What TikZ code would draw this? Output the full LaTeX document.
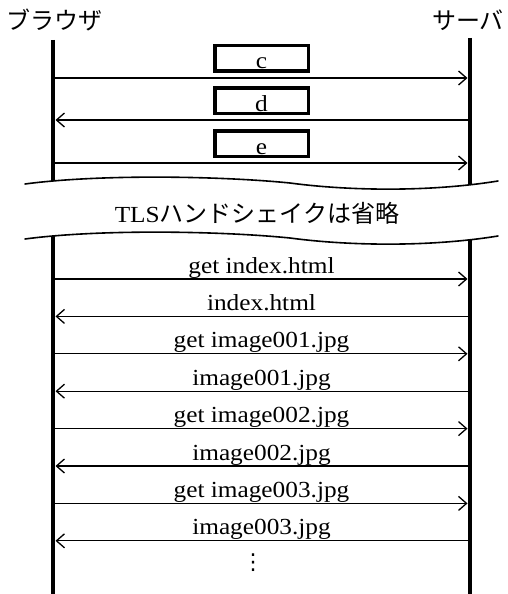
\documentclass[tikz,border=0pt]{standalone}
\usepackage{fontspec}
\setmainfont{Liberation Serif}[FakeStretch=1.1]
\newfontfamily\jp{Noto Sans CJK JP}
\newfontfamily\sym{DejaVu Sans}
\usetikzlibrary{arrows.meta}

\begin{document}
\begin{tikzpicture}[x=1pt,y=-1pt,line cap=round,
  life/.style={line width=4.5pt,line cap=butt},
  msg/.style={line width=1.3pt,shorten >=2.5pt,-{Straight Barb[length=8pt,width=14pt,line width=1.3pt]}},
  keybox/.style={draw,line width=3.5pt,minimum width=93.5pt,minimum height=25.5pt,inner sep=0pt,text height=21pt,text depth=0pt},
  wave/.style={line width=1.6pt}]
\fontsize{23}{27}\selectfont
\useasboundingbox (0,0) rectangle (508,594);
\node (client) at (54,20) {\jp\fontsize{24}{28}\selectfont ブラウザ};
\node (server) at (468,20) {\jp\fontsize{24}{28}\selectfont サーバ};
\coordinate (cT) at (53,40);  \coordinate (cM) at (53,181);
\coordinate (cN) at (53,236); \coordinate (cB) at (53,594);
\coordinate (sT) at (470,38); \coordinate (sM) at (470,185);
\coordinate (sN) at (470,240);\coordinate (sB) at (470,594);
\foreach \k/\y [count=\i] in {c/78,d/120,e/163}{
  \node[keybox] (\k) at (261.5,\y-19.5) {\k};
  \coordinate (ca\i) at (53,\y); \coordinate (sa\i) at (470,\y);
  \ifodd\i \draw[msg] (ca\i)--(sa\i); \else \draw[msg] (sa\i)--(ca\i); \fi
}
\draw[wave] (25,184) .. controls (100,174) and (220,176) .. (290,183) .. controls (350,191) and (430,192) .. (498,181);
\draw[wave] (25,239) .. controls (100,229) and (220,231) .. (290,238) .. controls (350,246) and (430,247) .. (498,236);
\node (tls) at (257,213) {TLS\jp\fontsize{24}{28}\selectfont ハンドシェイクは省略};
\foreach \f [count=\i] in {get index.html,index.html,get image001.jpg,image001.jpg,get image002.jpg,image002.jpg,get image003.jpg,image003.jpg}{
  \pgfmathsetmacro\y{279+37.4*(\i-1)}
  \coordinate (cb\i) at (53,\y); \coordinate (sb\i) at (470,\y);
  \ifodd\i \draw[msg] (cb\i)--(sb\i) node[midway,anchor=base,yshift=6pt] (m\i) {\f};
  \else \draw[msg] (sb\i)--(cb\i) node[midway,anchor=base,yshift=6pt] (m\i) {\f}; \fi
}
\node (more) at (253,563) {\sym\fontsize{22}{26}\selectfont ⋮};
\draw[life] (cT)--(cM) (cN)--(cB) (sT)--(sM) (sN)--(sB);
\end{tikzpicture}
\end{document}
